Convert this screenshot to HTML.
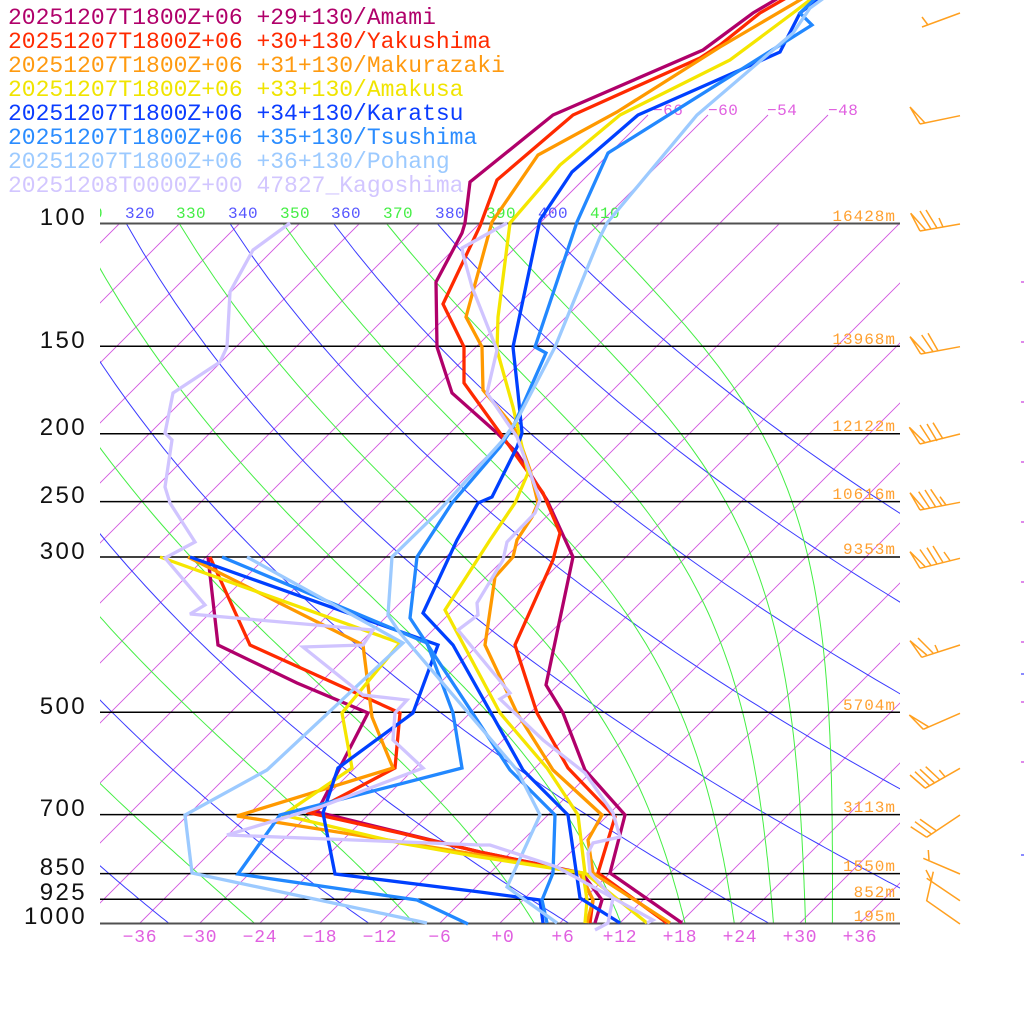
<!DOCTYPE html>
<html><head><meta charset="utf-8"><style>
html,body{margin:0;padding:0;background:#fff;}
svg{display:block;}
.leg{font-family:"Liberation Mono",monospace;font-size:23px;}
.pl{font-family:"Liberation Sans",sans-serif;font-size:24px;fill:#111;letter-spacing:2.4px;}
.hl{font-family:"Liberation Mono",monospace;font-size:16px;fill:#ffa030;letter-spacing:1px;}
.tl{font-family:"Liberation Mono",monospace;font-size:18px;fill:#e060e0;letter-spacing:0.8px;}
.th{font-family:"Liberation Mono",monospace;font-size:16px;letter-spacing:0.4px;}
.il{font-family:"Liberation Mono",monospace;font-size:16px;fill:#e060e0;letter-spacing:0.5px;}
</style></head><body>
<svg xmlns="http://www.w3.org/2000/svg" width="1024" height="1024" viewBox="0 0 1024 1024">
<defs>
<clipPath id="pc"><rect x="100" y="223" width="800" height="700"/></clipPath>
<clipPath id="lc"><rect x="100" y="190" width="800" height="40"/></clipPath>
</defs>
<rect width="1024" height="1024" fill="#fff"/>

<!-- isotherms -->
<g clip-path="url(#pc)" stroke="#cc44dd" stroke-width="0.9" stroke-opacity="0.9" fill="none">
<path d="M-580,923L120,223M-520,923L180,223M-460,923L240,223M-400,923L300,223M-340,923L360,223M-280,923L420,223M-220,923L480,223M-160,923L540,223M-100,923L600,223M-40,923L660,223M20,923L720,223M80,923L780,223M140,923L840,223M200,923L900,223M260,923L960,223M320,923L1020,223M380,923L1080,223M440,923L1140,223M500,923L1200,223M560,923L1260,223M620,923L1320,223M680,923L1380,223M740,923L1440,223M800,923L1500,223M860,923L1560,223"/>
</g>
<path d="M540,223L648,115M600,223L708,115M660,223L768,115M720,223L828,115" stroke="#cc44dd" stroke-width="0.9" stroke-opacity="0.9" fill="none"/>

<!-- adiabats (generated) -->
<g id="adi" clip-path="url(#pc)" fill="none" stroke-width="1"></g>

<!-- right-edge marks -->
<g stroke-width="1.2">
<path stroke="#cc44dd" d="M1021,282h3M1021,342h3M1021,402h3M1021,462h3M1021,522h3M1021,582h3M1021,642h3M1021,702h3M1021,762h3"/>
<path stroke="#4444ff" d="M1021,674h3M1021,855h3"/>
</g>

<!-- pressure lines -->
<g stroke="#000" stroke-width="1.5">
<line x1="100" y1="346.3" x2="900" y2="346.3"/>
<line x1="100" y1="433.7" x2="900" y2="433.7"/>
<line x1="100" y1="501.6" x2="900" y2="501.6"/>
<line x1="100" y1="557" x2="900" y2="557"/>
<line x1="100" y1="712.3" x2="900" y2="712.3"/>
<line x1="100" y1="814.6" x2="900" y2="814.6"/>
<line x1="100" y1="873.6" x2="900" y2="873.6"/>
<line x1="100" y1="899.3" x2="900" y2="899.3"/>
</g>
<line x1="100" y1="223.5" x2="900" y2="223.5" stroke="#505050" stroke-width="2"/>
<line x1="100" y1="923.5" x2="900" y2="923.5" stroke="#505050" stroke-width="2"/>

<!-- theta labels -->
<g class="th" clip-path="url(#lc)">
<text x="73" y="218" fill="#44ee44">310</text>
<text x="125" y="218" fill="#5555ff">320</text>
<text x="176" y="218" fill="#44ee44">330</text>
<text x="228" y="218" fill="#5555ff">340</text>
<text x="280" y="218" fill="#44ee44">350</text>
<text x="331" y="218" fill="#5555ff">360</text>
<text x="383" y="218" fill="#44ee44">370</text>
<text x="435" y="218" fill="#5555ff">380</text>
<text x="486" y="218" fill="#44ee44">390</text>
<text x="538" y="218" fill="#5555ff">400</text>
<text x="590" y="218" fill="#44ee44">410</text>
</g>

<!-- isotherm top labels -->
<g class="il">
<text x="653" y="115">−66</text>
<text x="708" y="115">−60</text>
<text x="767" y="115">−54</text>
<text x="828" y="115">−48</text>
</g>

<!-- pressure labels -->
<g class="pl" text-anchor="end">
<text x="87" y="225">100</text>
<text x="87" y="348">150</text>
<text x="87" y="435">200</text>
<text x="87" y="503">250</text>
<text x="87" y="559">300</text>
<text x="87" y="714">500</text>
<text x="87" y="816">700</text>
<text x="87" y="875">850</text>
<text x="87" y="900">925</text>
<text x="87" y="924">1000</text>
</g>

<!-- height labels -->
<g class="hl" text-anchor="end">
<text x="896" y="221">16428m</text>
<text x="896" y="344">13968m</text>
<text x="896" y="431">12122m</text>
<text x="896" y="499">10616m</text>
<text x="896" y="554">9353m</text>
<text x="896" y="710">5704m</text>
<text x="896" y="812">3113m</text>
<text x="896" y="871">1550m</text>
<text x="896" y="897">852m</text>
<text x="896" y="921">195m</text>
</g>

<!-- temperature labels -->
<g class="tl" text-anchor="middle">
<text x="140" y="942">−36</text>
<text x="200" y="942">−30</text>
<text x="260" y="942">−24</text>
<text x="320" y="942">−18</text>
<text x="380" y="942">−12</text>
<text x="440" y="942">−6</text>
<text x="503" y="942">+0</text>
<text x="563" y="942">+6</text>
<text x="620" y="942">+12</text>
<text x="680" y="942">+18</text>
<text x="740" y="942">+24</text>
<text x="800" y="942">+30</text>
<text x="860" y="942">+36</text>
</g>

<!-- legend -->
<g class="leg">
<text x="8" y="24" fill="#b0006a">20251207T1800Z+06 +29+130/Amami</text>
<text x="8" y="48" fill="#ff2a00">20251207T1800Z+06 +30+130/Yakushima</text>
<text x="8" y="72" fill="#ff9a10">20251207T1800Z+06 +31+130/Makurazaki</text>
<text x="8" y="96" fill="#f0e400">20251207T1800Z+06 +33+130/Amakusa</text>
<text x="8" y="120" fill="#0a3cff">20251207T1800Z+06 +34+130/Karatsu</text>
<text x="8" y="144" fill="#2a8cff">20251207T1800Z+06 +35+130/Tsushima</text>
<text x="8" y="168" fill="#9ccaff">20251207T1800Z+06 +36+130/Pohang</text>
<text x="8" y="192" fill="#d2c6ff">20251208T0000Z+00 47827_Kagoshima</text>
</g>

<!-- data -->
<g fill="none" stroke-width="3.3" stroke-linejoin="miter" stroke-miterlimit="3">
<!-- Amami -->
<polyline stroke="#b0006a" points="792,-10 753,13 703,50 553,115 470,182 465,223 462,233 436,282 437,347 452,393 497,433 517,453 547,500 573,557 546,685 563,713 585,770 625,815 610,873 682,923"/>
<polyline stroke="#b0006a" points="208,557 218,645 297,683 368,713 317,812 480,852 582,873 602,900 595,923"/>
<!-- Yakushima -->
<polyline stroke="#ff2a00" points="800,-10 760,13 720,45 700,58 573,115 497,180 480,226 443,304 464,347 464,383 500,433 543,493 560,533 553,560 515,645 537,713 568,768 615,817 598,873 667,923"/>
<polyline stroke="#ff2a00" points="210,557 250,645 400,713 395,768 310,813 400,833 480,852 580,873 593,900 590,923"/>
<!-- Makurazaki -->
<polyline stroke="#ff9900" points="817,-10 720,47 617,112 538,155 492,222 466,317 482,347 483,390 508,420 517,433 530,470 538,503 532,517 517,540 513,557 495,577 485,645 517,713 553,770 602,815 588,840 593,873 670,923"/>
<polyline stroke="#ff9900" points="188,557 363,645 372,717 393,768 237,816 400,842 480,855 580,873 593,900 587,923"/>
<!-- Amakusa -->
<polyline stroke="#f5e600" points="823,-10 793,13 730,60 620,115 560,165 510,223 498,317 497,350 513,407 528,473 515,503 490,540 445,610 500,713 547,768 578,815 585,873 647,923"/>
<polyline stroke="#f5e600" points="160,557 400,643 342,713 352,768 283,815 400,843 480,857 583,873 587,900 585,923"/>
<!-- Karatsu -->
<polyline stroke="#0040ff" points="830,-10 800,13 780,52 740,70 638,115 572,172 540,220 513,347 518,393 522,433 517,447 492,497 478,503 457,540 423,613 453,645 523,770 568,815 580,898 620,923"/>
<polyline stroke="#0040ff" points="190,557 438,645 413,713 338,768 323,813 335,874 480,892 540,900 543,923"/>
<!-- Tsushima -->
<polyline stroke="#2288ff" points="822,-8 800,13 812,25 608,153 577,222 535,347 546,353 513,427 500,447 452,503 417,557 410,618 510,770 555,815 553,873 542,900 547,923"/>
<polyline stroke="#2288ff" points="222,557 427,643 453,713 462,768 280,815 238,874 417,900 468,924"/>
<!-- Pohang -->
<polyline stroke="#9ccaff" points="835,-10 810,8 793,33 697,115 607,223 600,237 555,347 517,420 503,440 437,513 392,557 388,615 400,633 517,770 540,815 507,887 557,923"/>
<polyline stroke="#9ccaff" points="247,557 403,643 267,770 185,815 192,873 427,923"/>
<!-- Kagoshima -->
<polyline stroke="#d0c4ff" points="507,223 462,248 463,254 472,287 497,350 487,393 517,437 540,500 535,513 507,542 503,560 477,603 478,615 458,630 510,693 500,699 543,740 585,773 613,813 620,837 593,843 588,853 590,873 613,898 608,923 595,930"/>
<polyline stroke="#d0c4ff" points="290,223 253,250 230,292 227,347 220,362 173,393 165,433 172,440 165,487 170,503 195,542 165,558 205,605 190,614 373,630 363,645 303,647 363,695 407,700 395,713 393,740 423,768 320,807 227,835 480,845 490,845 557,867 653,920 647,923"/>
</g>

<!-- wind barbs -->
<g stroke="#ffa020" stroke-width="1.5" fill="none" stroke-linejoin="miter">
<path d="M960,13L922,27M928,25L922,17"/>
<path d="M960,115.7L920,124M920,124L910,107L925,123"/>
<path d="M960,224L920,231M920,231L910.7,213.3L925.7,230M931,229L920,211M937,228L926,210M943,227L939,218"/>
<path d="M960,346.7L920.7,354M920.7,354L910,336.7L925,352.7M933,351.7L921.7,335M938,350.7L928,333.3"/>
<path d="M960,434L920,444M920,444L909.3,427.3L925,442.7M931,442L920,425M937,441L927,424M943,439L933,422.7"/>
<path d="M960,502.3L920,510M920,510L910,492.7L924.3,509.3M930,508.5L918.7,491.7M936,507.5L925,490M942,506L930.7,489.3M946,505L940,496.7"/>
<path d="M960,558.3L920,568.3M920,568.3L910,551.7L925,566.5M931,565.5L920,549.5M937,564L927,547.7M943,562.5L933,546M950,560.5L944,552"/>
<path d="M960,645L921.7,657.3M921.7,657.3L910,640.7L926.7,655M933,653L918,638M938,651.7L935,645"/>
<path d="M960,713.3L923.3,729.3M923.3,729.3L909.3,715L928.3,726.7"/>
<path d="M960,768.3L925,788.3M925,788L910,775M930,786L915,771.7M935,783.3L920,769.3M940,780L925.7,766.7M945,776.7L939.3,770"/>
<path d="M960,815L926.7,837.3M926.7,837.3L910.7,826.7M931.7,834.3L915,821.7M936.7,831L920,819.3"/>
<path d="M960,874L923.3,858.3M929,860L928.3,850"/>
<path d="M960,900.7L926.7,878.3M931.7,881L926,870"/>
<path d="M960,924L926.7,900.7L933.3,871.7"/>
</g>

<script>
(function(){
var NS='http://www.w3.org/2000/svg';
var g=document.getElementById('adi');
function Y(p){return 923-304.0*Math.log(1000/p);}
function X(Tc,p){return 500+10*Tc+304.0*Math.log(1000/p);}
function add(d,c){var e=document.createElementNS(NS,'path');e.setAttribute('d',d);e.setAttribute('stroke',c);g.appendChild(e);}
var th,p,d,T;
for(th=160;th<=400;th+=20){
  d='';
  for(p=100;p<=1000;p+=10){T=th*Math.pow(p/1000,0.2857)-273.15;d+=(p==100?'M':'L')+X(T,p).toFixed(1)+','+Y(p).toFixed(1);}
  add(d,'#3a3aff');
}
function te(TK,p){
  var Tc=TK-273.15;var es=6.112*Math.exp(17.67*Tc/(Tc+243.5));
  if(es>p*0.5)return 1e9;
  var r=622*es/(p-es);
  return TK*Math.pow(1000/p,0.2854*(1-0.00028*r))*Math.exp((3.376/TK-0.00254)*r*(1+0.00081*r));
}
for(th=170;th<=410;th+=20){
  d='';
  for(p=100;p<=1000;p+=10){
    var lo=80,hi=340;
    for(var i=0;i<50;i++){var m=(lo+hi)/2;if(te(m,p)>th)hi=m;else lo=m;}
    T=(lo+hi)/2-273.15;
    d+=(p==100?'M':'L')+X(T,p).toFixed(1)+','+Y(p).toFixed(1);
  }
  add(d,'#44ee44');
}
})();
</script>
</svg>
</body></html>
